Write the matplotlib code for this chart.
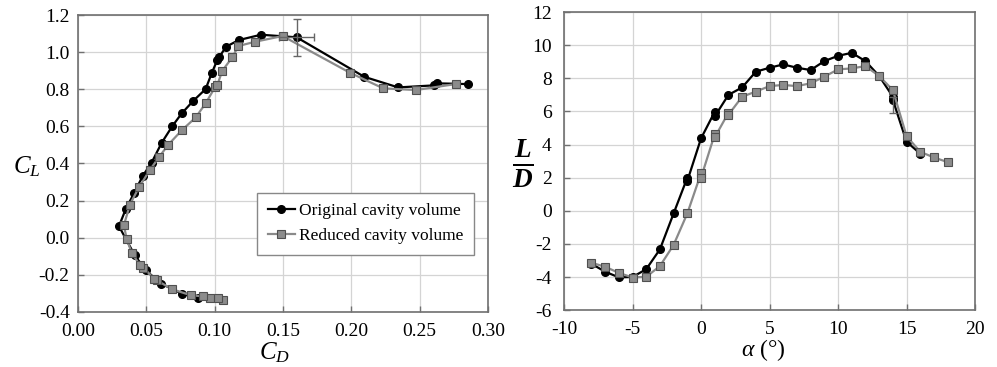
import matplotlib
matplotlib.use('Agg')
import matplotlib.pyplot as plt
import numpy as np

plt.rcParams['font.family'] = ['Liberation Serif', 'DejaVu Serif']
plt.rcParams['mathtext.fontset'] = 'custom'
plt.rcParams['mathtext.rm'] = 'Liberation Serif'
plt.rcParams['mathtext.it'] = 'Liberation Serif:italic'
plt.rcParams['mathtext.bf'] = 'Liberation Serif:bold:italic'
plt.rcParams['axes.unicode_minus'] = False

# drag polar, original cavity volume
cd_orig = [0.0876, 0.0759, 0.0607, 0.0495, 0.0415, 0.0300, 0.0351, 0.0412, 0.0473,
           0.0539, 0.0612, 0.0690, 0.0759, 0.0844, 0.0934, 0.0978, 0.1019, 0.1035,
           0.1083, 0.1176, 0.1339, 0.1600, 0.2095, 0.2343, 0.2604, 0.2630, 0.2850]
cl_orig = [-0.323, -0.301, -0.247, -0.175, -0.094, 0.062, 0.157, 0.242, 0.332,
           0.405, 0.511, 0.601, 0.670, 0.738, 0.801, 0.886, 0.957, 0.975,
           1.029, 1.065, 1.094, 1.080, 0.867, 0.810, 0.821, 0.832, 0.828]

# drag polar, reduced cavity volume
cd_red = [0.1058, 0.1026, 0.0966, 0.0917, 0.0826, 0.0690, 0.0575, 0.0556, 0.0478,
          0.0454, 0.0393, 0.0356, 0.0336, 0.0380, 0.0446, 0.0527, 0.0595, 0.0658,
          0.0761, 0.0861, 0.0934, 0.1002, 0.1019, 0.1056, 0.1129, 0.1173, 0.1295,
          0.1497, 0.1990, 0.2233, 0.2472, 0.2763]
cl_red = [-0.334, -0.323, -0.325, -0.316, -0.310, -0.278, -0.229, -0.220, -0.161,
          -0.148, -0.082, -0.005, 0.067, 0.179, 0.271, 0.366, 0.436, 0.499,
          0.580, 0.648, 0.724, 0.810, 0.822, 0.900, 0.972, 1.033, 1.056,
          1.087, 0.889, 0.805, 0.796, 0.828]

# lift-to-drag ratio against angle of attack
alpha_orig = [-8, -7, -6, -5, -4, -3, -2, -1, -1, 0, 1, 1, 2, 3, 4, 5, 6, 7, 8, 9,
              10, 11, 12, 13, 14, 14, 15, 16]
ld_orig = [-3.2, -3.68, -4.02, -4.0, -3.53, -2.33, -0.16, 2.0, 1.8, 4.37, 5.98, 5.7,
           7.0, 7.45, 8.4, 8.64, 8.84, 8.64, 8.5, 9.04, 9.36, 9.54, 9.04, 8.14,
           6.89, 6.7, 4.17, 3.45]

alpha_red = [-8, -7, -6, -5, -4, -3, -2, -1, 0, 0, 1, 1, 2, 2, 3, 4, 5, 6, 7, 8, 9,
             10, 11, 12, 13, 14, 15, 16, 17, 18]
ld_red = [-3.14, -3.38, -3.75, -4.03, -3.99, -3.34, -2.06, -0.16, 2.26, 2.0, 4.62,
          4.43, 5.92, 5.8, 6.89, 7.2, 7.53, 7.6, 7.53, 7.7, 8.1, 8.54, 8.6, 8.74,
          8.14, 7.29, 4.51, 3.56, 3.22, 2.94]

# uncertainty bars
cd_err_pt, cl_err_pt, cd_err, cl_err = 0.160, 1.080, 0.013, 0.10
alpha_err_pt, ld_err_pt, ld_err = 14, 6.4, 0.5

fig = plt.figure(figsize=(9.97, 3.67), dpi=100)
ax1 = fig.add_axes([0.0782, 0.150, 0.4113, 0.809])
ax2 = fig.add_axes([0.5657, 0.155, 0.4123, 0.812])

blk = dict(color='black', lw=1.6, marker='o', ms=5.5, mfc='black', mec='black')
gry = dict(color='#8a8a8a', lw=1.6, marker='s', ms=5.5, mfc='#8c8c8c', mec='#505050',
           mew=0.8)

ax1.plot(cd_orig, cl_orig, label='Original cavity volume', zorder=3, **blk)
ax1.plot(cd_red, cl_red, label='Reduced cavity volume', zorder=4, **gry)
ax1.errorbar([cd_err_pt], [cl_err_pt], xerr=[cd_err], yerr=[cl_err], fmt='none',
             ecolor='#666666', elinewidth=1.0, capsize=3, zorder=5)

ax2.plot(alpha_orig, ld_orig, zorder=3, **blk)
ax2.plot(alpha_red, ld_red, zorder=4, **gry)
ax2.errorbar([alpha_err_pt], [ld_err_pt], yerr=[ld_err], fmt='none',
             ecolor='#666666', elinewidth=1.0, capsize=3, zorder=5)

ax1.set_xlim(0, 0.30)
ax1.set_ylim(-0.4, 1.2)
ax1.set_xticks(np.arange(0, 0.31, 0.05))
ax1.set_yticks(np.arange(-0.4, 1.21, 0.2))
ax1.xaxis.set_major_formatter(matplotlib.ticker.FormatStrFormatter('%.2f'))
ax1.yaxis.set_major_formatter(matplotlib.ticker.FormatStrFormatter('%.1f'))

ax2.set_xlim(-10, 20)
ax2.set_ylim(-6, 12)
ax2.set_xticks(np.arange(-10, 21, 5))
ax2.set_yticks(np.arange(-6, 13, 2))

for ax in (ax1, ax2):
    ax.grid(True, color='#d4d4d4', lw=0.9)
    ax.set_axisbelow(True)
    for s in ax.spines.values():
        s.set_color('#707070')
        s.set_linewidth(1.2)
    ax.tick_params(direction='in', length=4, width=1, color='#707070',
                   labelsize=14)
    ax.tick_params(axis='x', pad=8)
ax1.tick_params(axis='y', pad=6)
ax2.tick_params(axis='y', pad=9)

ax1.set_xlabel(r'$C_D$', fontsize=18)
ax1.xaxis.set_label_coords(0.48, -0.095)
ax1.set_ylabel(r'$C_L$', fontsize=18, rotation=0, va='center')
ax1.yaxis.set_label_coords(-0.125, 0.49)

ax2.set_xlabel(r'$\alpha$ (°)', fontsize=17)
ax2.xaxis.set_label_coords(0.484, -0.09)
ax2.set_ylabel(r'$\mathbf{\frac{L}{D}}$', fontsize=28, rotation=0, va='center')
ax2.yaxis.set_label_coords(-0.10, 0.49)

ax1.legend(loc='upper left', bbox_to_anchor=(0.437, 0.401), borderaxespad=0,
           fontsize=12.5, frameon=True, fancybox=False, edgecolor='#888888',
           framealpha=1, handlelength=1.6, handletextpad=0.2, borderpad=0.6,
           labelspacing=0.5)

plt.savefig('out.png', dpi=100)
